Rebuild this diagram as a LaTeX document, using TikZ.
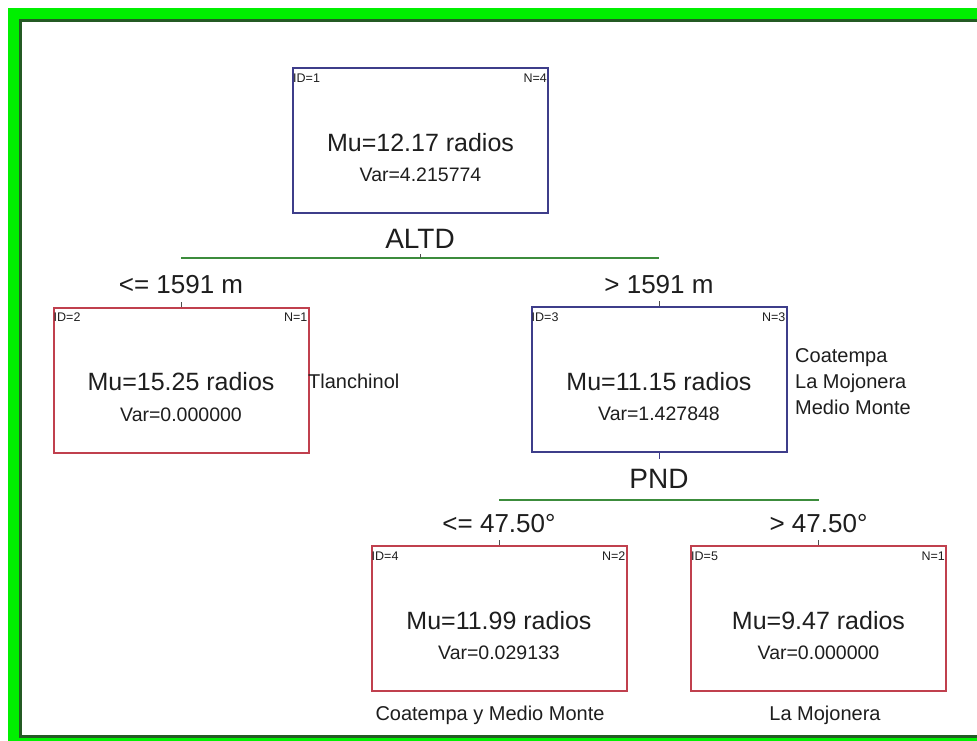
\documentclass[tikz,border=0pt]{standalone}
\usepackage{fontspec}
\setmainfont{Liberation Sans}
\definecolor{bluebox}{HTML}{3E3D8A}
\definecolor{redbox}{HTML}{C0404E}
\definecolor{splitgreen}{HTML}{3C8C3C}
\definecolor{framegreen}{HTML}{00F000}
\definecolor{framedark}{HTML}{245A24}
\definecolor{txt}{HTML}{1E1E1E}
\begin{document}
\begin{tikzpicture}[x=1pt,y=-1pt,
  treebox/.style={draw, line width=2pt, minimum width=255pt, minimum height=145pt, inner sep=0pt, fill=white},
  bluenode/.style={treebox, draw=bluebox},
  rednode/.style={treebox, draw=redbox},
  mutext/.style={font=\fontsize{25}{30}\selectfont, text=txt, inner sep=0pt, anchor=base},
  vartext/.style={font=\fontsize{19.5}{24}\selectfont, text=txt, inner sep=0pt, anchor=base},
  idtext/.style={font=\fontsize{12.5}{14}\selectfont, text=txt, inner sep=0pt, anchor=base west},
  ntext/.style={font=\fontsize{12.5}{14}\selectfont, text=txt, inner sep=0pt, anchor=base east},
  splitname/.style={font=\fontsize{28}{32}\selectfont, text=txt, inner sep=0pt, anchor=base},
  condtext/.style={font=\fontsize{26}{30}\selectfont, text=txt, inner sep=0pt, anchor=base},
  sitetext/.style={font=\fontsize{20}{26}\selectfont, text=txt, inner sep=0pt},
  splitline/.style={draw=splitgreen, line width=1.8pt},
  tickline/.style={draw=black!70, line width=1pt}
]
\useasboundingbox (0,0) rectangle (977,740);
% frame
\fill[framegreen] (8,8) rectangle (990,750);
\fill[white] (21,21) rectangle (990,736);
\draw[framedark, line width=2.5pt] (990,20.5) -- (20.5,20.5) -- (20.5,736.5) -- (990,736.5);

% boxes
\node[bluenode] (b1) at (420.5,140.5) {};
\node[rednode]  (b2) at (181,380) {};
\node[bluenode] (b3) at (659,379.5) {};
\node[rednode]  (b4) at (499,618.5) {};
\node[rednode]  (b5) at (818.5,618.5) {};

% box texts
\foreach \b/\id/\n/\mu/\var in {b1/1/4/12.17/4.215774, b2/2/1/15.25/0.000000, b3/3/3/11.15/1.427848, b4/4/2/11.99/0.029133, b5/5/1/9.47/0.000000}{
  \node[idtext] (\b id) at ([xshift=1pt,yshift=-15pt]\b.north west) {ID=\id};
  \node[ntext] (\b n) at ([xshift=-2pt,yshift=-15pt]\b.north east) {N=\n};
  \node[mutext] (\b mu) at ([yshift=-10.5pt]\b.center) {Mu=\mu\ radios};
  \node[vartext] (\b var) at ([yshift=-41pt]\b.center) {Var=\var};
}

% split ALTD
\node[splitname] (altd) at (420,248) {ALTD};
\coordinate (s1) at (420,258);
\draw[splitline] (b2.north |- s1) -- (b3.north |- s1);
\draw[tickline] (s1) -- ++(0,-4);
\node[condtext] (c2) at (b2.north |- 0,293) {<= 1591 m};
\node[condtext] (c3) at (b3.north |- 0,293) {> 1591 m};
\draw[tickline] (b2.north) -- ++(0,-5);
\draw[tickline] (b3.north) -- ++(0,-5);

% split PND
\draw[draw=bluebox, line width=1pt] (b3.south) -- ++(0,6);
\node[splitname] (pnd) at (659,488) {PND};
\coordinate (s2) at (659,500);
\draw[splitline] (b4.north |- s2) -- (b5.north |- s2);
\node[condtext] (c4) at (b4.north |- 0,532) {<= 47.50°};
\node[condtext] (c5) at (b5.north |- 0,532) {> 47.50°};
\draw[tickline] (b4.north) -- ++(0,-5);
\draw[tickline] (b5.north) -- ++(0,-5);

% site labels
\node[sitetext, anchor=base west] (l2) at (308,388) {Tlanchinol};
\node[sitetext, anchor=base west] (l3a) at (795,362) {Coatempa};
\node[sitetext, anchor=base west] (l3b) at (795,388) {La Mojonera};
\node[sitetext, anchor=base west] (l3c) at (795,414) {Medio Monte};
\node[sitetext, anchor=base] (l4) at (490,720) {Coatempa y Medio Monte};
\node[sitetext, anchor=base] (l5) at (825,720) {La Mojonera};
\end{tikzpicture}
\end{document}
